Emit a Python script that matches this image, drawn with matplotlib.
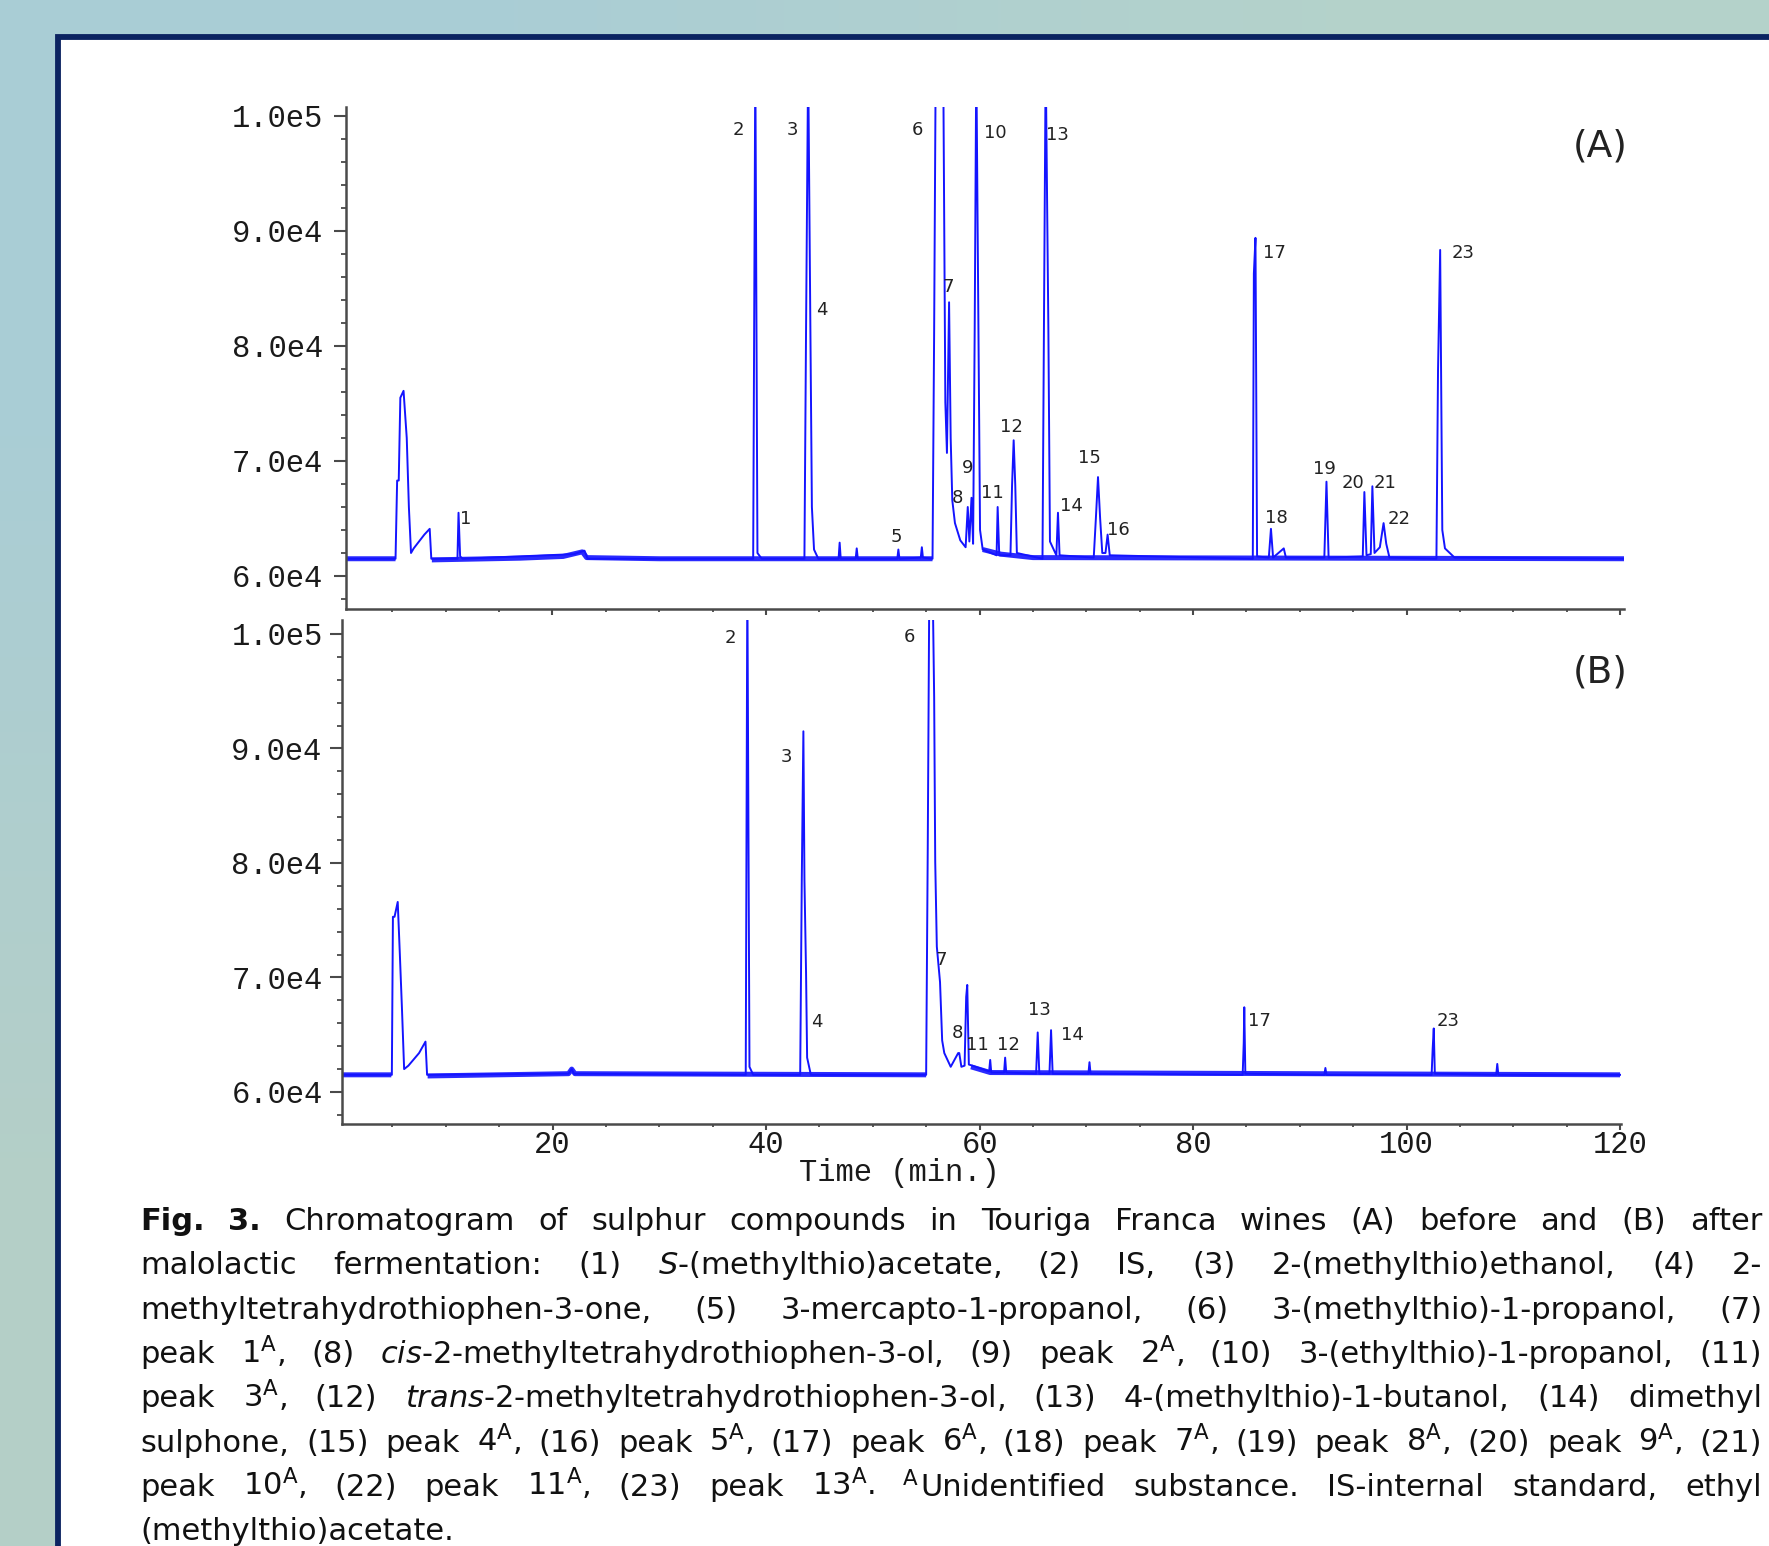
import numpy as np
import matplotlib
matplotlib.use('Agg')
import matplotlib.pyplot as plt
from matplotlib.patches import Rectangle
from matplotlib.ticker import MultipleLocator
from matplotlib.transforms import blended_transform_factory

W, H = 1769, 1546
nan = np.nan

# ---------------- chromatogram (A): before malolactic fermentation ----------------
time_a = [0.6, 5.3, 5.45, 5.6, 5.75, 6.05, 6.35, 6.55, 6.75, 7.0, 8.0, 8.5, 8.65,
          11.1, 11.2, 11.35, 11.6, 22.0, 23.0, 23.3,
          38.8, 39.0, 39.2, 39.6,
          43.6, 43.75, 43.95, 44.15, 44.3, 44.5, 44.9,
          46.8, 46.9, 47.0, 48.4, 48.5, 48.6, 52.3, 52.4, 52.5, 54.5, 54.6, 54.7,
          55.6, 55.75, 55.9, 56.6, 56.7, 56.8, 56.95, 57.15, 57.3, 57.45, 57.7, 58.2, 58.7,
          58.9, 59.05, 59.25, 59.4, 59.55, 59.7, 59.9, 60.05, 60.3,
          61.6, 61.7, 61.85, 62.9, 63.05, 63.2, 63.35, 63.5,
          65.9, 66.05, 66.2, 66.45, 66.6, 67.2, 67.35, 67.5,
          70.7, 70.9, 71.1, 71.3, 71.5, 71.8, 72.0, 72.2,
          85.6, 85.7, 85.85, 86.0, 87.1, 87.3, 87.5, 88.5, 88.7,
          92.3, 92.5, 92.7, 95.9, 96.05, 96.25, 96.65, 96.8, 97.0, 97.5, 97.85, 98.1, 98.4,
          102.8, 102.95, 103.15, 103.35, 103.6, 104.5, 120.4]
signal_a = [61500, 61500, 68300, 68300, 75500, 76100, 72000, 66000, 62000, 62400, 63600, 64100, 61500,
            61500, 65500, 61700, 61500, 61900, 62200, 61500,
            61500, 105000, 62000, 61500,
            61500, 81000, 105000, 82500, 66000, 62300, 61500,
            61500, 62900, 61500, 61500, 62400, 61500, 61500, 62300, 61500, 61600, 62500, 61600,
            61500, 81100, 105000, 105000, 90000, 75100, 70700, 83800, 72000, 66600, 64600, 63100, 62500,
            66000, 63000, 66800, 62800, 81500, 105000, 81500, 64000, 62300,
            61800, 66000, 61800, 61800, 67900, 71800, 67900, 62000,
            61500, 83700, 105000, 81600, 63000, 61800, 65500, 61800,
            61600, 65000, 68600, 65000, 62000, 62000, 63600, 61800,
            61500, 86300, 89400, 61700, 61600, 64100, 61600, 62400, 61600,
            61600, 68200, 61600, 61700, 67300, 61800, 61900, 67800, 62000, 62500, 64600, 62800, 61600,
            61500, 77900, 88350, 64000, 62400, 61600, 61500]
# noisy baseline level
band_a_time = [0.6, 5.3, nan, 8.7, 17.0, 21.0, 22.8, 23.2, 30.0, 55.6, nan, 60.3, 62.0, 65.0, 120.4]
band_a_signal = [61500, 61500, nan, 61400, 61550, 61700, 62100, 61600, 61500, 61500, nan, 62300, 61900, 61600, 61500]
labels_a = ['1', '2', '3', '4', '5', '6', '7', '8', '9', '10', '11', '12', '13', '14', '15', '16',
            '17', '18', '19', '20', '21', '22', '23']
label_a_time = [11.9, 37.4, 42.5, 45.2, 52.2, 54.2, 57.1, 57.9, 58.9, 61.5, 61.2, 63.0, 67.3, 68.6,
                70.3, 73.0, 87.6, 87.8, 92.3, 95.0, 98.0, 99.3, 105.3]
label_a_height = [64960, 98780, 98780, 83130, 63390, 98780, 85130, 66780, 69390, 98520, 67220, 72960,
                  98350, 66090, 70260, 64000, 88090, 65040, 69300, 68090, 68090, 64960, 88090]

# ---------------- chromatogram (B): after malolactic fermentation ----------------
time_b = [0.3, 4.95, 5.05, 5.2, 5.5, 5.7, 5.9, 6.1, 6.5, 7.5, 8.1, 8.25,
          21.5, 21.8, 22.0,
          38.1, 38.25, 38.45, 38.8,
          43.2, 43.35, 43.5, 43.6, 43.75, 43.85, 44.2,
          55.0, 55.15, 55.3, 55.6, 55.75, 55.85, 56.0, 56.3, 56.5, 56.7, 57.3, 58.0, 58.1, 58.3, 58.6, 58.75, 58.85, 59.0,
          60.9, 61.0, 61.1, 62.3, 62.4, 62.5,
          65.3, 65.45, 65.6, 66.55, 66.7, 66.85,
          70.2, 70.3, 70.4,
          84.65, 84.75, 84.8, 84.9,
          92.3, 92.4, 92.5,
          102.35, 102.45, 102.55, 102.65,
          108.4, 108.5, 108.6, 120.0]
signal_b = [61500, 61500, 75300, 75300, 76600, 72000, 67200, 62000, 62300, 63400, 64400, 61500,
            61600, 62000, 61600,
            61500, 105000, 62200, 61500,
            61500, 78500, 91500, 78500, 70400, 63000, 61500,
            61500, 81300, 105000, 105000, 94500, 80100, 72700, 69600, 64500, 63400, 62200, 63400, 63400, 62200, 62300, 68300, 69350, 62400,
            61800, 62800, 61700, 61700, 63000, 61700,
            61600, 65200, 61600, 61600, 65400, 61600,
            61600, 62600, 61600,
            61500, 64300, 67400, 61600,
            61500, 62100, 61500,
            61500, 63800, 65550, 61600,
            61500, 62450, 61500, 61500]
band_b_time = [0.3, 4.9, nan, 8.3, 21.5, 21.8, 22.1, 55.0, nan, 59.2, 61.0, 120.0]
band_b_signal = [61500, 61500, nan, 61400, 61600, 62000, 61600, 61500, nan, 62200, 61700, 61500]
labels_b = ['2', '3', '4', '6', '7', '8', '11', '12', '13', '14', '17', '23']
label_b_time = [36.7, 41.9, 44.8, 53.4, 56.4, 57.9, 59.8, 62.7, 65.6, 68.7, 86.2, 103.9]
label_b_height = [99650, 89260, 66110, 99740, 71530, 65150, 64100, 64100, 67160, 64980, 66200, 66200]

# axis ticks
ytick_values = [60000, 70000, 80000, 90000, 100000]
ytick_labels = ['6.0e4', '7.0e4', '8.0e4', '9.0e4', '1.0e5']
xtick_values = [20, 40, 60, 80, 100, 120]
xtick_labels = ['20', '40', '60', '80', '100', '120']

# "|" joins pieces of one word that are drawn as separate texts
caption_lines = [
    r"Fig. 3. Chromatogram of sulphur compounds in Touriga Franca wines (A) before and (B) after",
    r"malolactic fermentation: (1) $\it{S}$-(methylthio)acetate, (2) IS, (3) 2-(methylthio)ethanol, (4) 2-",
    r"methyltetrahydrothiophen-3-one, (5) 3-mercapto-1-propanol, (6) 3-(methylthio)-1-propanol, (7)",
    r"peak 1$^{\mathrm{A}}$, (8) $\it{cis}$-2-methyltetrahydrothiophen-3-ol, (9) peak 2$^{\mathrm{A}}$, (10) 3-(ethylthio)-1-propanol, (11)",
    r"peak 3$^{\mathrm{A}}$, (12) $\it{trans}$-2-methyltetrahydrothiophen-3-ol, (13) 4-(methylthio)-1-butanol, (14) dimethyl",
    r"sulphone, (15) peak 4$^{\mathrm{A}}$, (16) peak 5$^{\mathrm{A}}$, (17) peak 6$^{\mathrm{A}}$, (18) peak 7$^{\mathrm{A}}$, (19) peak 8$^{\mathrm{A}}$, (20) peak 9$^{\mathrm{A}}$, (21)",
    r"peak 10$^{\mathrm{A}}$, (22) peak 11$^{\mathrm{A}}$, (23) peak 13$^{\mathrm{A}}$. A|Unidentified substance. IS-internal standard, ethyl",
    r"(methylthio)acetate.",
]

# ---------------- style ----------------
trace_c = '#1414ff'
axis_c = '#4a4a4a'
tick_font = 'Liberation Mono'
label_font = 'DejaVu Sans'

fig = plt.figure(figsize=(W / 100, H / 100), dpi=100)

# slide background + framed white panel (pixel coordinates)
bg = fig.add_axes([0, 0, 1, 1], zorder=-1)
grad = np.array([[[0.663, 0.804, 0.839], [0.706, 0.824, 0.796]],
                 [[0.706, 0.812, 0.784], [0.706, 0.824, 0.796]]])
bg.imshow(grad, extent=(0, W, H, 0), interpolation='bilinear', aspect='auto')
bg.set_xlim(0, W)
bg.set_ylim(H, 0)
bg.add_patch(Rectangle((58, 36.5), W, H, facecolor='white', edgecolor='#0b2361', lw=4.2))
bg.axis('off')


def px_axes(left, top, right, bottom):
    return fig.add_axes([left / W, 1 - bottom / H, (right - left) / W, (bottom - top) / H])


def style_axis(ax, xlim, ylim, show_x, ypad):
    ax.set_facecolor('none')
    ax.set_xlim(*xlim)
    ax.set_ylim(*ylim)
    for s in ['top', 'right']:
        ax.spines[s].set_visible(False)
    for s in ['left', 'bottom']:
        ax.spines[s].set_color(axis_c)
        ax.spines[s].set_linewidth(1.8)
    ax.set_yticks(ytick_values)
    ax.set_yticklabels(ytick_labels, fontfamily=tick_font, fontsize=22)
    ax.yaxis.set_minor_locator(MultipleLocator(2000))
    ax.set_xticks(xtick_values)
    ax.set_xticklabels(xtick_labels if show_x else [], fontfamily=tick_font, fontsize=22)
    ax.xaxis.set_minor_locator(MultipleLocator(5))
    ax.tick_params(axis='y', which='major', length=8.5, width=1.5, color=axis_c, pad=ypad)
    ax.tick_params(axis='y', which='minor', length=3.6, width=1.3, color=axis_c)
    ax.tick_params(axis='x', which='major', length=4, width=1.5, color=axis_c, pad=0)
    ax.tick_params(axis='x', which='minor', length=2.5, width=1.3, color=axis_c)
    ax.tick_params(labelcolor='#1a1a1a')


axA = px_axes(346, 107, 1624, 609)
axB = px_axes(342, 620, 1621, 1124)
style_axis(axA, (0.66, 120.37), (57130, 100780), False, 8)
style_axis(axB, (0.28, 120.09), (57205, 101220), True, 5.5)

for ax, bt, bv, tt, tv in [(axA, band_a_time, band_a_signal, time_a, signal_a),
                           (axB, band_b_time, band_b_signal, time_b, signal_b)]:
    ax.plot(bt, bv, color=trace_c, lw=3.6, alpha=0.9, solid_capstyle='butt')
    ax.plot(tt, tv, color=trace_c, lw=1.4)

for lab, t, v in zip(labels_a, label_a_time, label_a_height):
    axA.text(t, v, lab, ha='center', va='center', fontsize=13, family=label_font, color='#222222')
for lab, t, v in zip(labels_b, label_b_time, label_b_height):
    axB.text(t, v, lab, ha='center', va='center', fontsize=13, family=label_font, color='#222222')

fig.text(1600 / W, 1 - 147 / H, '(A)', ha='center', va='center', fontsize=27, family=label_font, color='#222222')
fig.text(1600 / W, 1 - 672 / H, '(B)', ha='center', va='center', fontsize=27, family=label_font, color='#222222')

axB.text(52.5, 1 - 1173 / H, 'Time (min.)', transform=blended_transform_factory(axB.transData, fig.transFigure),
         ha='center', va='center', fontsize=22, family=tick_font, color='#1a1a1a')

# ---------------- justified caption ----------------
renderer = fig.canvas.get_renderer()
x_left, x_right = 140, 1762
base0, line_step = 1230, 44.3
cap_fs = 22
space_px = 0.318 * cap_fs * 100 / 72
for i, line in enumerate(caption_lines):
    words = line.split(' ')
    word_parts, widths = [], []
    for j, w in enumerate(words):
        weight = 'bold' if (i == 0 and j < 2) else 'normal'
        parts = []
        total = 0
        for k, piece in enumerate(w.split('|')):
            sup = (k == 0 and '|' in w)
            t = fig.text(0, 0, piece, fontsize=cap_fs * (0.7 if sup else 1), family=label_font,
                         weight=weight, ha='left', va='baseline', color='#111111')
            pw = t.get_window_extent(renderer).width
            parts.append((t, total, sup))
            total += pw + (2 if sup else 0)
        word_parts.append(parts)
        widths.append(total)
    if i < len(caption_lines) - 1:
        gap = (x_right - x_left - sum(widths)) / (len(words) - 1)
    else:
        gap = space_px
    x = x_left
    y = base0 + i * line_step
    for parts, wd in zip(word_parts, widths):
        for t, off, sup in parts:
            yy = y - (0.36 * cap_fs * 100 / 72 if sup else 0)
            t.set_position(((x + off) / W, 1 - yy / H))
        x += wd + gap

fig.savefig('out.png', dpi=100)
